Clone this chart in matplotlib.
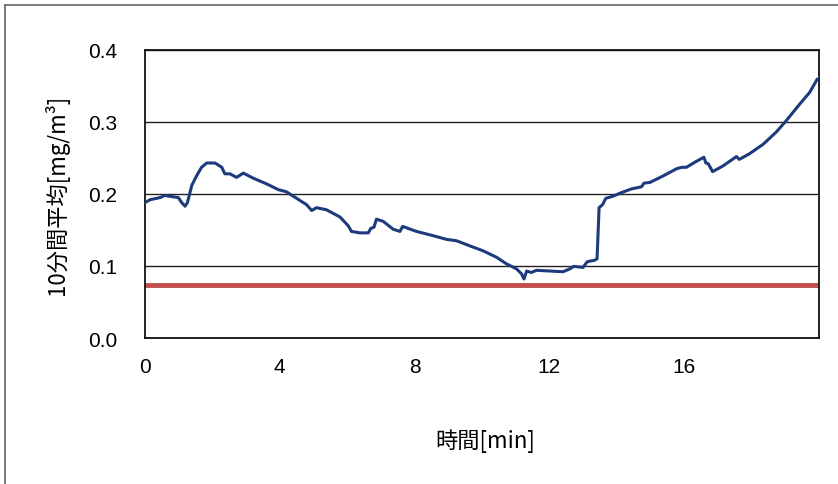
import numpy as np
import matplotlib
matplotlib.use('Agg')
import matplotlib.pyplot as plt
from matplotlib import font_manager
from matplotlib.lines import Line2D

# フォント設定
plt.rcParams['font.family'] = ['Noto Sans CJK JP', 'DejaVu Sans']
installed = {f.name for f in font_manager.fontManager.ttflist}
tick_font = 'Liberation Sans Narrow' if 'Liberation Sans Narrow' in installed else 'Liberation Sans'

# 時間 [min] と 10分間平均 [mg/m3]
time_min = [0.0, 0.15, 0.45, 0.59, 0.84, 0.99, 1.09, 1.19, 1.26, 1.39, 1.53, 1.68,
            1.83, 2.08, 2.28, 2.37, 2.52, 2.72, 2.92, 3.21, 3.61, 3.96, 4.2, 4.5,
            4.8, 4.95, 5.09, 5.39, 5.79, 6.03, 6.13, 6.38, 6.63, 6.7, 6.8, 6.87,
            7.07, 7.37, 7.57, 7.65, 8.06, 8.56, 8.95, 9.25, 9.64, 10.04, 10.44,
            10.73, 11.03, 11.18, 11.25, 11.33, 11.47, 11.62, 12.02, 12.41, 12.61,
            12.73, 13.0, 13.13, 13.35, 13.42, 13.48, 13.58, 13.68, 13.9, 14.15,
            14.44, 14.74, 14.81, 14.99, 15.38, 15.78, 15.93, 16.07, 16.32, 16.59,
            16.65, 16.72, 16.85, 17.16, 17.56, 17.64, 17.95, 18.35, 18.74, 19.04,
            19.44, 19.73, 19.95]
avg_conc = [0.188, 0.192, 0.195, 0.198, 0.196, 0.195, 0.188, 0.183, 0.188, 0.212,
            0.225, 0.237, 0.243, 0.243, 0.237, 0.228, 0.228, 0.223, 0.229, 0.222,
            0.214, 0.206, 0.203, 0.194, 0.185, 0.177, 0.181, 0.178, 0.168, 0.156,
            0.148, 0.146, 0.146, 0.152, 0.154, 0.165, 0.162, 0.151, 0.148, 0.155,
            0.148, 0.142, 0.137, 0.135, 0.128, 0.121, 0.112, 0.103, 0.096, 0.089,
            0.082, 0.093, 0.091, 0.094, 0.093, 0.092, 0.096, 0.0995, 0.098, 0.106,
            0.108, 0.110, 0.181, 0.185, 0.194, 0.197, 0.202, 0.207, 0.210, 0.215,
            0.216, 0.225, 0.235, 0.237, 0.237, 0.244, 0.251, 0.243, 0.242, 0.231,
            0.239, 0.252, 0.248, 0.256, 0.269, 0.286, 0.302, 0.325, 0.341, 0.359]
limit_value = 0.074   # 基準値
x_ticks = [0, 4, 8, 12, 16]
y_ticks = [0.0, 0.1, 0.2, 0.3, 0.4]

fig = plt.figure(figsize=(8.38, 4.85), dpi=100)
ax = fig.add_axes([0.173, 0.301, 0.804, 0.594])

ax.plot(time_min, avg_conc, color='#1c3a7c', lw=2.2, zorder=3)
ax.axhline(limit_value, color='#c0504d', lw=3.5, zorder=2)

ax.set_xlim(0, 20)
ax.set_ylim(0, 0.4)
ax.set_xticks(x_ticks)
ax.set_yticks(y_ticks)
ax.set_xticklabels([str(t) for t in x_ticks], fontsize=15, family=tick_font)
ax.set_yticklabels([f'{v:.1f}' for v in y_ticks], fontsize=15, family=tick_font)
ax.tick_params(axis='y', length=0, pad=20)
ax.tick_params(axis='x', length=0, pad=14)
ax.yaxis.grid(True, color='#222222', lw=1.0)
ax.set_axisbelow(True)
for s in ax.spines.values():
    s.set_color('#111111')
    s.set_linewidth(1.3)

ax.set_ylabel('10分間平均[mg/m³]', fontsize=16, labelpad=14)
fig.text(0.579, 0.09, '時間[min]', fontsize=16, ha='center', va='center')

# チャートエリアの枠
fig.add_artist(Line2D([5, 838], [479, 479], transform=None, color='#666666', lw=1.2))
fig.add_artist(Line2D([5, 5], [0, 479], transform=None, color='#666666', lw=1.2))

fig.savefig('out.png', dpi=100)
